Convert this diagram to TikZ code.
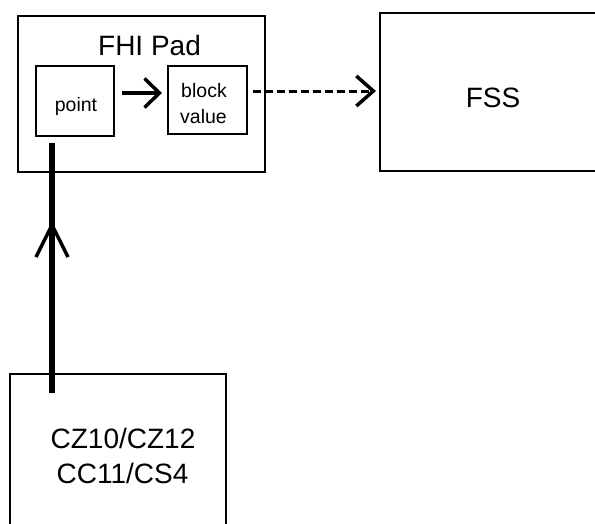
\documentclass[tikz,border=0pt]{standalone}
\usepackage{fontspec}
\setmainfont{Liberation Sans}
\usetikzlibrary{arrows.meta}
\begin{document}
\begin{tikzpicture}[x=1pt,y=-1pt,
  box/.style={draw=black,line width=1.6pt,rectangle,inner sep=0pt,outer sep=0pt},
  bigtxt/.style={font=\fontsize{28}{35}\selectfont,inner sep=0pt,anchor=base,text=black},
  smalltxt/.style={font=\fontsize{19.5}{26}\selectfont,inner sep=0pt,anchor=base,text=black},
  thickarr/.style={line width=4.8pt,-{Straight Barb[length=15pt,width=29pt,line width=3.5pt]}},
  dasharr/.style={line width=3pt,dash pattern=on 8pt off 4pt,-{Straight Barb[length=17pt,width=30pt,line width=3.5pt]}},
  vline/.style={line width=5.2pt},
  barb/.style={line width=3.5pt,miter limit=20}
]
\useasboundingbox (0,0) rectangle (595,523);
\clip (0,0) rectangle (595,523);
% boxes
\node[box,minimum width=247pt,minimum height=156pt] (fhi) at (141.5,94) {};
\node[box,minimum width=78pt,minimum height=70pt] (point) at (75,101) {};
\node[box,minimum width=79pt,minimum height=68pt] (block) at (207.5,100) {};
\node[box,minimum width=240pt,minimum height=158pt] (fss) at (500,92) {};
\node[box,minimum width=216pt,minimum height=226pt] (src) at (118,487) {};
% texts
\node[bigtxt] (fhilabel) at (149.5,55) {FHI Pad};
\node[smalltxt] (pointlabel) at (76,111) {point};
\node[smalltxt] (blocklabel1) at (204,97) {block};
\node[smalltxt] (blocklabel2) at (203.5,123) {value};
\node[bigtxt] (fsslabel) at (493,107) {FSS};
\node[bigtxt] (srclabel1) at (123,448) {CZ10/CZ12};
\node[bigtxt] (srclabel2) at (122.5,483) {CC11/CS4};
% connectors
\draw[thickarr] ([xshift=8pt,yshift=8pt]point.east) -- ([xshift=-6pt,yshift=8pt]point.east -| block.west);
\draw[dasharr] ([xshift=6pt,yshift=1pt]block.east |- fss.west) -- ([xshift=-4pt,yshift=1pt]fss.west);
\coordinate (vx) at (52,0);
\coordinate (vtip) at (52,225);
\draw[vline] ([yshift=-19pt]src.north -| vx) -- ([yshift=-7pt]point.south -| vx);
\draw[barb] (vtip) +(-16,32) -- (vtip) -- +(16,32);
\end{tikzpicture}
\end{document}
